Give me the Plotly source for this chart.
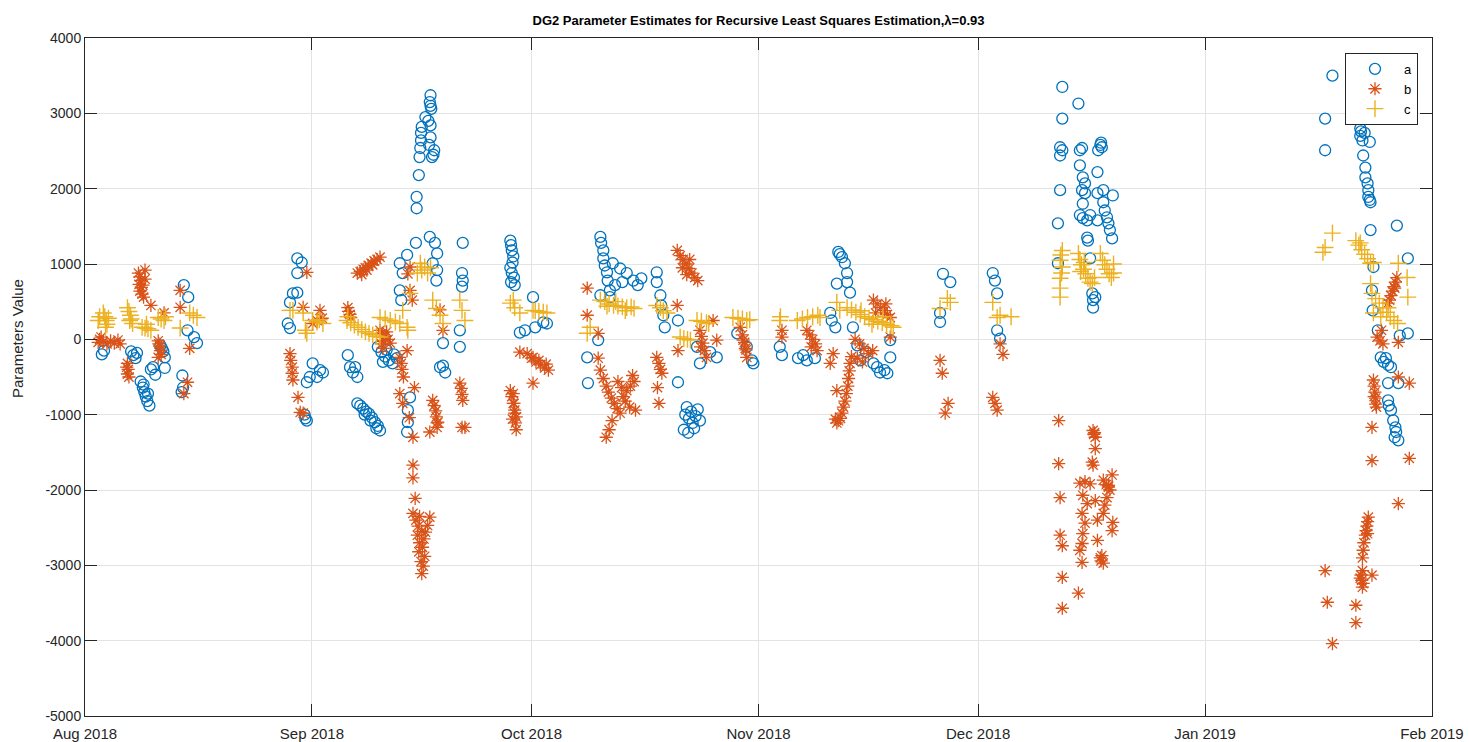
import pandas as pd
import plotly.graph_objects as go

# Sample times are stored as days elapsed since 1 Aug 2018.
START = pd.Timestamp("2018-08-01")

# ---- parameter a ----
a_day = [
    2.3, 2.6, 6.3, 6.6, 6.9, 7.1, 7.6, 7.9, 8.1, 8.3, 8.5, 8.8, 8.0, 8.6, 9.0, 9.3, 9.6, 10.9,
    10.5, 10.7, 10.3, 10.9, 13.3, 13.2, 13.4, 13.5, 14.1, 14.0, 14.9, 15.3,
    29.0, 29.6, 29.0, 28.4, 29.0, 28.0, 27.7, 28.0, 31.1, 32.1, 30.7, 31.7, 30.3, 32.5, 30.1, 30.0, 30.3,
    35.9, 36.2, 36.6, 37.2, 36.9,
    37.2, 37.6, 38.0, 38.4, 38.8, 39.2, 39.6, 40.0, 40.3, 38.2, 39.0, 39.8,
    40.0, 40.5, 41.0, 41.5, 42.0, 42.6, 41.2, 40.7, 42.2,
    43.0, 43.4, 43.0, 44.0, 43.2, 44.4, 44.1, 44.1, 44.0,
    47.2, 47.1, 47.2, 47.3, 46.0, 47.2, 45.9, 47.2, 45.9, 47.0, 47.7, 45.8, 47.4, 45.7, 45.6, 45.3,
    45.3, 47.6, 46.5, 46.9, 45.2,
    47.1, 47.8, 48.1, 47.5, 48.1, 48.0, 51.6, 51.5, 51.6, 51.5, 48.9, 48.5, 48.9, 49.2, 51.2, 51.2,
    58.1, 58.2, 58.3, 58.5, 58.4, 58.1, 58.3, 58.6, 58.2, 58.7, 61.2,
    59.4, 60.1, 61.5, 62.6, 63.1,
    70.4, 70.5, 70.8, 70.8, 71.0, 71.3, 71.4, 71.7, 71.7, 72.1, 73.1, 74.0, 74.9, 72.4, 70.4, 70.1,
    68.6, 68.7, 73.4, 75.5, 76.0,
    78.1, 78.1, 78.6, 78.7, 79.0, 79.2, 81.0, 81.0,
    82.2, 82.8, 83.4, 84.0, 83.0, 82.5, 83.7, 82.0, 81.8, 82.4, 83.2,
    83.6, 84.0, 86.3, 85.4, 89.1, 90.4, 91.1, 91.3,
    94.9, 95.2, 97.4, 98.6, 99.7, 98.1,
    102.9, 103.1, 103.4, 103.8, 104.1, 104.1, 104.5, 102.7, 101.8, 102.5, 102.0, 104.9,
    105.9, 107.7, 108.2, 108.6, 109.2, 109.6, 110.0, 110.0, 106.7, 105.5,
    117.2, 118.2, 116.8, 116.8, 124.0, 124.3, 124.6, 124.6, 125.0,
    133.5, 135.7, 133.5, 133.2, 133.5, 133.2, 135.9, 136.2, 138.7, 138.9, 138.4, 138.8, 135.9, 138.3,
    136.3, 136.6, 136.2, 136.6, 133.2, 138.3, 139.1, 140.4, 139.1, 139.3, 139.6, 139.8, 140.0, 140.3,
    136.3, 135.9, 136.3, 136.9, 137.3, 132.9, 138.3, 136.9, 137.0, 132.9, 137.3, 137.6, 137.7, 137.7, 138.0,
    170.4, 169.4, 169.4, 174.2, 174.3, 174.2, 174.5, 174.8, 175.5, 174.6, 174.9, 174.9, 175.2, 175.3,
    175.3, 175.6, 175.5, 175.6, 179.2, 176.0, 180.7, 175.8, 175.9, 176.6, 179.6, 180.7,
    177.0, 177.4, 178.0, 178.4, 177.7, 178.0, 179.4, 178.0, 178.1, 178.4, 178.7, 179.0, 179.1, 179.4, 178.9,
]
a_val = [
    -200, -150, -160, -210, -250, -180, -560, -640, -700, -760, -820, -880, -600, -720, -400, -370, -470, -380,
    -120, -160, -80, -240, -480, -700, -640, 720, 560, 120, 30, -50,
    1075, 1020, 880, 610, 620, 490, 210, 150, -320, -410, -500, -500, -570, -440, -1050, -1000, -1080,
    -210, -370, -440, -500, -370,
    -850, -880, -920, -960, -990, -1040, -1100, -1150, -1210, -1000, -1080, -1180,
    -100, -170, -230, -280, -320, -250, -140, -300, -200,
    1010, 880, 650, 1120, 520, -770, -940, -1100, -1230,
    3240, 3150, 3100, 3060, 2820, 2840, 2740, 2680, 2640, 2580, 2510, 2540, 2420, 2420, 2180, 1890,
    1740, 2450, 2950, 2900, 1280,
    1360, 1280, 1140, 1010, 920, 780, 1280, 880, 780, 700, -50, -370, -350, -440, 120, -100,
    1310, 1250, 1180, 1100, 1020, 950, 880, 820, 760, 720, 560,
    90, 120, 160, 225, 210,
    1360, 1280, 1180, 1075, 980, 890, 780, 650, 560, 1010, 940, 880, 780, 720, 585, -10,
    -240, -580, 760, 720, 810,
    890, 760, 585, 450, 320, 160, 250, -570,
    -900, -960, -1020, -1080, -1110, -1050, -930, -1000, -1200, -1240, -1180,
    -100, -320, -240, -170, 80, -100, -280, -320,
    -100, -210, -250, -280, -250, -210,
    1160, 1130, 1090, 1010, 880, 760, 620, 740, 350, 160, 250, 160,
    -280, -320, -370, -440, -410, -450, -10, -240, -170, -80,
    870, 760, 350, 230, 880, 780, 610, 120, 10,
    3350, 3130, 2930, 2550, 2510, 2440, 2510, 2540, 2580, 2550, 2510, 2610, 2310, 2220,
    2150, 2070, 1980, 1940, 1980, 1940, 1980, 1910, 1820, 1710, 1620, 1540, 1450, 1340,
    1800, 1650, 1610, 1580, 1650, 1540, 1580, 1350, 1310, 1010, 1075, 610, 520, 420, 560,
    3500, 2930, 2510, 2800, 2760, 2700, 2640, 2740, 2620, 2440, 2280, 2150, 2070, 1980,
    1890, 1820, 1850, 1450, 1510, 960, 1075, 650, 385, 120, 50, 80,
    -240, -300, -340, -370, -250, -580, -580, -810, -880, -940, -1075, -1170, -1230, -1340, -1300,
]

# ---- parameter b ----
b_day = [
    7.3, 7.5, 7.6, 7.4, 7.7, 7.5, 7.8, 8.0, 7.9, 8.2, 8.2,
    2.0, 2.5, 3.0, 3.5, 4.0, 4.5, 2.2, 4.8, 1.8,
    5.8, 5.9, 5.8, 6.0, 5.7,
    9.0, 10.8, 10.0, 10.2, 10.3, 10.4, 10.0, 10.1, 13.0, 13.0, 14.3, 14.0, 13.5,
    30.3, 29.8, 32.1, 32.4, 31.7, 31.1, 28.0, 28.1, 28.3, 28.3, 28.4, 29.1, 29.4, 29.8,
    37.2, 37.6, 38.0, 38.3, 38.7, 39.1, 39.5, 39.9, 40.3, 38.5, 39.3, 37.8,
    35.9, 36.0, 36.2, 36.3,
    40.3, 40.6, 41.0, 41.4, 41.7, 40.8, 41.2, 40.5, 40.7,
    43.0, 43.2, 43.3, 43.5, 44.0, 43.0, 43.4, 45.0, 44.3,
    44.4, 44.1, 44.4, 44.7, 48.5, 48.9,
    47.5, 47.7, 47.9, 48.0, 48.2, 48.1,
    51.2, 51.4, 51.5, 51.6, 51.5,
    51.9, 47.1, 48.1, 44.8, 44.8, 44.8, 45.1, 44.8, 47.1, 45.2, 45.5, 46.0, 45.4, 46.3, 45.7, 46.1,
    45.6, 46.4, 45.9, 46.2, 46.0, 46.8, 45.7, 46.5,
    58.1, 58.3, 58.5, 58.7, 58.9, 59.4, 60.4, 61.2, 61.2,
    61.0, 61.6, 62.2, 62.8, 63.3, 62.0, 63.0,
    58.5, 58.6, 58.7, 58.8, 58.4, 58.9,
    68.6, 68.6, 70.1, 70.1,
    70.4, 70.8, 71.2, 71.5, 71.9, 72.3, 72.7, 73.1, 72.0, 71.6, 71.2, 73.5, 74.0, 74.5, 75.0, 73.8,
    74.4, 75.2, 74.8, 72.8, 73.3,
    78.1, 78.4, 78.6, 78.8, 78.2, 78.4,
    80.9, 81.3, 81.7, 82.1, 82.5, 82.9, 83.3, 83.7, 81.6, 82.6, 82.2,
    80.9, 81.0, 84.0, 84.2, 84.4, 84.6, 84.9, 84.1, 85.8, 86.3,
    89.5, 89.8, 90.1, 90.3, 90.4, 89.9, 90.2,
    95.2, 95.2, 98.6, 99.0, 99.4, 99.8, 100.0, 99.2, 102.2, 101.8,
    104.5, 104.4, 104.3, 104.2, 104.0, 103.8, 103.6, 103.4, 103.2, 102.9, 102.7, 102.5, 104.7, 102.7,
    107.7, 108.2, 108.7, 109.2, 109.6, 110.0, 108.0, 109.4,
    105.2, 105.8, 106.4, 107.0, 107.6, 105.5, 106.2, 110.0,
    116.8, 117.1, 117.9, 117.5, 124.0, 124.3, 124.6, 125.0, 125.4,
    133.0, 133.0, 133.2, 133.2, 133.5, 133.5, 133.5, 135.7,
    137.7, 137.8, 138.0, 137.9, 138.0, 137.6, 137.7, 135.9, 136.6, 137.3,
    136.3, 136.9, 138.0, 136.2, 136.6, 136.3, 136.2, 135.9, 136.2, 138.3, 138.3, 138.7, 138.8, 139.1, 138.9,
    139.1, 139.5, 140.0, 139.8, 139.6, 139.3, 139.1, 140.3, 140.4, 140.3, 139.8,
    179.2, 179.0, 178.8, 178.6, 178.4, 178.2, 178.0, 178.9,
    177.1, 176.5, 176.9, 177.3, 179.4,
    176.0, 176.1, 176.2, 176.3, 176.3, 176.4, 176.1,
    179.4, 180.9, 175.8, 175.8, 180.9, 179.4,
    175.3, 175.2, 175.1, 175.0, 174.9, 174.7, 174.6, 174.5, 175.2,
    174.5, 174.3, 174.4, 174.6, 174.5, 174.2,
    175.8, 169.4, 169.7, 173.6, 173.6, 170.4,
]
b_val = [
    880, 830, 780, 730, 690, 640, 600, 560, 720, 800, 920,
    0, -30, -60, -20, -50, -10, 30, -60, -40,
    -320, -400, -460, -500, -370,
    450, 350, -20, -90, -150, -200, -240, -60, 650, 425, -120, -570, -720,
    890, 425, 385, 280, 250, 210, -190, -280, -370, -450, -540, -770, -970, -980,
    880, 900, 930, 950, 980, 1010, 1040, 1060, 1090, 920, 990, 860,
    420, 370, 330, 290,
    120, 80, 40, 0, -50, -20, 100, -60, -120,
    -240, -320, -400, -500, -150, -720, -850, -640, -1040,
    960, 870, 650, 520, 390, 120,
    -810, -880, -950, -1030, -1100, -1170,
    -580, -650, -730, -810, -1170,
    -1170, -1230, -1110, -1300, -1670, -1840, -2110, -2310, -2360, -2400, -2480, -2550, -2600, -2650, -2700, -2760,
    -2820, -2880, -2950, -3010, -3110, -2470, -2350, -2560,
    -680, -760, -850, -940, -1030, -170, -190, -240, -580,
    -250, -300, -340, -380, -410, -280, -330,
    -720, -850, -980, -1110, -1060, -1200,
    680, 320, 80, -250,
    -410, -520, -620, -700, -780, -850, -920, -980, -1080, -1200, -1300, -760, -680, -620, -560, -820,
    -900, -940, -480, -560, -640,
    -240, -320, -400, -450, -640, -850,
    1180, 1110, 1060, 1000, 940, 880, 820, 780, 950, 1060, 860,
    450, -150, 120, 40, -50, -150, -240, -100, 250, -10,
    160, 60, -40, -140, -240, -10, -120,
    120, 30, 120, 60, 0, -60, -150, -100, -190, -320,
    -320, -420, -520, -620, -720, -820, -900, -980, -1050, -1080, -1110, -1060, -230, -680,
    520, 470, 420, 380, 330, 290, 350, 470,
    0, -60, -120, -190, -150, -250, -300, 30,
    -280, -450, -850, -980, -770, -850, -940, -60, -200,
    -1080, -1650, -2100, -2600, -2740, -3160, -3570, -3370,
    -1210, -1260, -1300, -1240, -1450, -1630, -1670, -1910, -1890, -1920,
    -2070, -2180, -2140, -2310, -2440, -2580, -2710, -2800, -2960, -2400, -2670, -2900, -2940, -2970, -2870,
    -1870, -1930, -2000, -1960, -2100, -2200, -2310, -1800, -2430, -2540, -1940,
    820, 760, 700, 640, 580, 520, 480, 680,
    120, 30, -20, -60, -40,
    -540, -620, -700, -780, -860, -900, -760,
    -500, -580, -1170, -1610, -1580, -2180,
    -2360, -2420, -2480, -2540, -2600, -2700, -2800, -2900, -2580,
    -3070, -3130, -3200, -3240, -3290, -3170,
    -3130, -3070, -3490, -3530, -3760, -4040,
]

# ---- parameter c ----
c_day = [
    2.5, 2.7, 2.9, 3.0, 2.8, 3.2, 5.8, 6.0, 6.2, 6.3, 6.5, 6.1, 7.8, 8.2, 8.6, 9.0, 8.4,
    10.0, 10.4, 10.8, 11.0, 14.3, 14.8, 15.3, 13.0, 1.8, 2.0,
    28.4, 29.8, 30.1, 30.3, 28.0, 31.1, 31.7, 32.5, 32.0,
    35.8, 36.3, 36.8, 37.3, 37.8, 38.3, 38.8, 39.3, 39.8, 40.3, 35.9,
    40.3, 41.0, 41.7, 42.4, 43.0,
    43.4, 44.4, 45.4, 45.8, 46.4, 46.0, 46.8, 47.2, 44.0, 44.1,
    47.5, 48.0, 48.5, 48.9, 51.2, 51.5, 51.9,
    58.5, 58.7, 59.4, 58.1, 61.2,
    61.5, 62.0, 62.6, 63.1, 69.0, 68.6,
    70.4, 71.0, 71.6, 72.2, 72.8, 73.4, 74.0, 74.6, 75.0, 71.3, 72.5, 73.8,
    78.1, 78.6, 79.0, 79.5, 81.3, 81.8, 82.3, 82.7,
    83.6, 84.2, 84.9, 85.2, 88.5, 89.2, 89.8, 90.4, 90.8,
    94.9, 95.0, 97.3, 98.0, 98.7, 99.4, 100.1, 100.4,
    102.7, 103.1,
    104.1, 104.7, 105.3, 105.9, 106.5, 107.1, 107.7, 108.3, 108.9, 109.5, 110.1, 110.4, 106.0, 107.5, 109.0,
    117.8, 118.2, 116.8, 124.0, 124.6, 125.0, 126.5,
    133.5, 133.2, 133.5, 133.2, 133.2, 133.2, 133.3, 133.4,
    135.7, 135.9, 136.1, 136.4, 136.7, 137.0, 137.3, 137.6, 136.0, 136.5, 137.9,
    138.7, 139.0, 139.3, 139.6, 139.9, 140.2, 140.5, 140.5,
    170.4, 169.4, 169.1,
    173.6, 174.0, 174.4, 174.8, 175.2, 175.6, 176.0, 174.2,
    179.4, 180.6, 180.7,
    175.8, 176.3, 176.8, 177.3, 177.8, 178.3, 178.8, 179.3, 177.0, 178.0, 176.0, 175.6,
]
c_val = [
    350, 300, 250, 200, 160, 280, 420, 370, 320, 270, 210, 250, 160, 150, 140, 120, 200,
    290, 270, 250, 300, 350, 320, 290, 150, 250, 300,
    385, 350, 120, 80, 385, 250, 230, 210, 260,
    250, 220, 190, 160, 130, 100, 80, 60, 40, 30, 300,
    290, 270, 250, 230, 210,
    385, 610, 880, 1010, 960, 920, 880, 950, 160, 120,
    520, 410, 320, 210, 520, 385, 250,
    520, 420, 350, 480, 385,
    380, 370, 360, 350, 160, 80,
    520, 500, 470, 450, 440, 430, 420, 430, 410, 440, 500, 380,
    450, 420, 380, 350, 30, 10, 0, -10,
    250, 240, 220, 210, 290, 280, 270, 250, 260,
    250, 300, 250, 270, 290, 300, 320, 290,
    490, 385,
    420, 390, 360, 330, 300, 280, 260, 240, 220, 200, 180, 160, 380, 200, 300,
    545, 490, 410, 490, 290, 320, 300,
    1180, 1050, 960, 810, 680, 560, 1120, 880,
    1140, 1060, 990, 930, 870, 810, 760, 740, 900, 1020, 820,
    1140, 1050, 990, 930, 870, 820, 880, 1000,
    1410, 1220, 1155,
    1310, 1250, 1190, 1130, 1070, 1010, 1020, 1280,
    1010, 820, 560,
    610, 540, 480, 420, 360, 300, 250, 210, 300, 420, 350, 740,
]

# Axis tick definitions
x_tick_dates = ["2018-08-01", "2018-09-01", "2018-10-01", "2018-11-01",
                "2018-12-01", "2019-01-01", "2019-02-01"]
x_tick_labels = ["Aug 2018", "Sep 2018", "Oct 2018", "Nov 2018",
                 "Dec 2018", "Jan 2019", "Feb 2019"]
y_tick_vals = [-5000, -4000, -3000, -2000, -1000, 0, 1000, 2000, 3000, 4000]
y_tick_labels = ["-5000", "-4000", "-3000", "-2000", "-1000", "0",
                 "1000", "2000", "3000", "4000"]


def to_time(days):
    return START + pd.to_timedelta(days, unit="D")


FONT = "Liberation Sans, Arial, sans-serif"
INK = "#262626"

fig = go.Figure()
fig.add_trace(go.Scatter(
    x=to_time(a_day), y=a_val, mode="markers", name="a",
    marker=dict(symbol="circle-open", size=11, color="#0072BD",
                line=dict(width=1.3, color="#0072BD")),
))
fig.add_trace(go.Scatter(
    x=to_time(b_day), y=b_val, mode="markers", name="b",
    marker=dict(symbol="asterisk-open", size=11, color="#D95319",
                line=dict(width=1.3, color="#D95319")),
))
fig.add_trace(go.Scatter(
    x=to_time(c_day), y=c_val, mode="markers", name="c",
    marker=dict(symbol="cross-thin-open", size=12, color="#EDB120",
                line=dict(width=1.4, color="#EDB120")),
))

fig.update_layout(
    width=1469, height=742,
    margin=dict(l=85, r=37, t=38, b=26, autoexpand=False),
    paper_bgcolor="white", plot_bgcolor="white",
    font=dict(family=FONT, size=14, color=INK),
    title=dict(
        text="<b>DG2 Parameter Estimates for Recursive Least Squares Estimation,λ=0.93</b>",
        x=(85 + 1432) / 2 / 1469, xanchor="center", y=1 - 20 / 742, yanchor="middle",
        font=dict(family=FONT, size=13, color="#000000"),
    ),
    legend=dict(
        x=0.9896, xanchor="right", y=0.978, yanchor="top",
        bgcolor="white", bordercolor=INK, borderwidth=1,
        font=dict(family=FONT, size=13, color="#000000"),
        itemwidth=48, tracegroupgap=2,
    ),
    showlegend=True,
    annotations=[dict(
        text="Parameters Value", textangle=-90,
        xref="paper", yref="paper", x=-68 / 1347, y=(716 - 339) / 678,
        xanchor="center", yanchor="middle", showarrow=False,
        font=dict(family=FONT, size=15, color=INK),
    )],
)

fig.update_xaxes(
    range=["2018-08-01", "2019-02-01"], automargin=False,
    tickvals=x_tick_dates, ticktext=x_tick_labels,
    showgrid=True, gridcolor="#e3e3e3", gridwidth=1,
    showline=True, linecolor=INK, linewidth=1, mirror="ticks",
    ticks="inside", ticklen=12, tickcolor=INK, tickwidth=1,
    ticklabelstandoff=4,
    zeroline=False, tickfont=dict(family=FONT, size=15, color=INK),
)
fig.update_yaxes(
    range=[-5000, 4000], automargin=False,
    tickvals=y_tick_vals, ticktext=y_tick_labels,
    showgrid=True, gridcolor="#e3e3e3", gridwidth=1,
    showline=True, linecolor=INK, linewidth=1, mirror="ticks",
    ticks="inside", ticklen=12, tickcolor=INK, tickwidth=1,
    zeroline=False, tickfont=dict(family=FONT, size=14, color=INK),
)

fig.write_html("out.html")
